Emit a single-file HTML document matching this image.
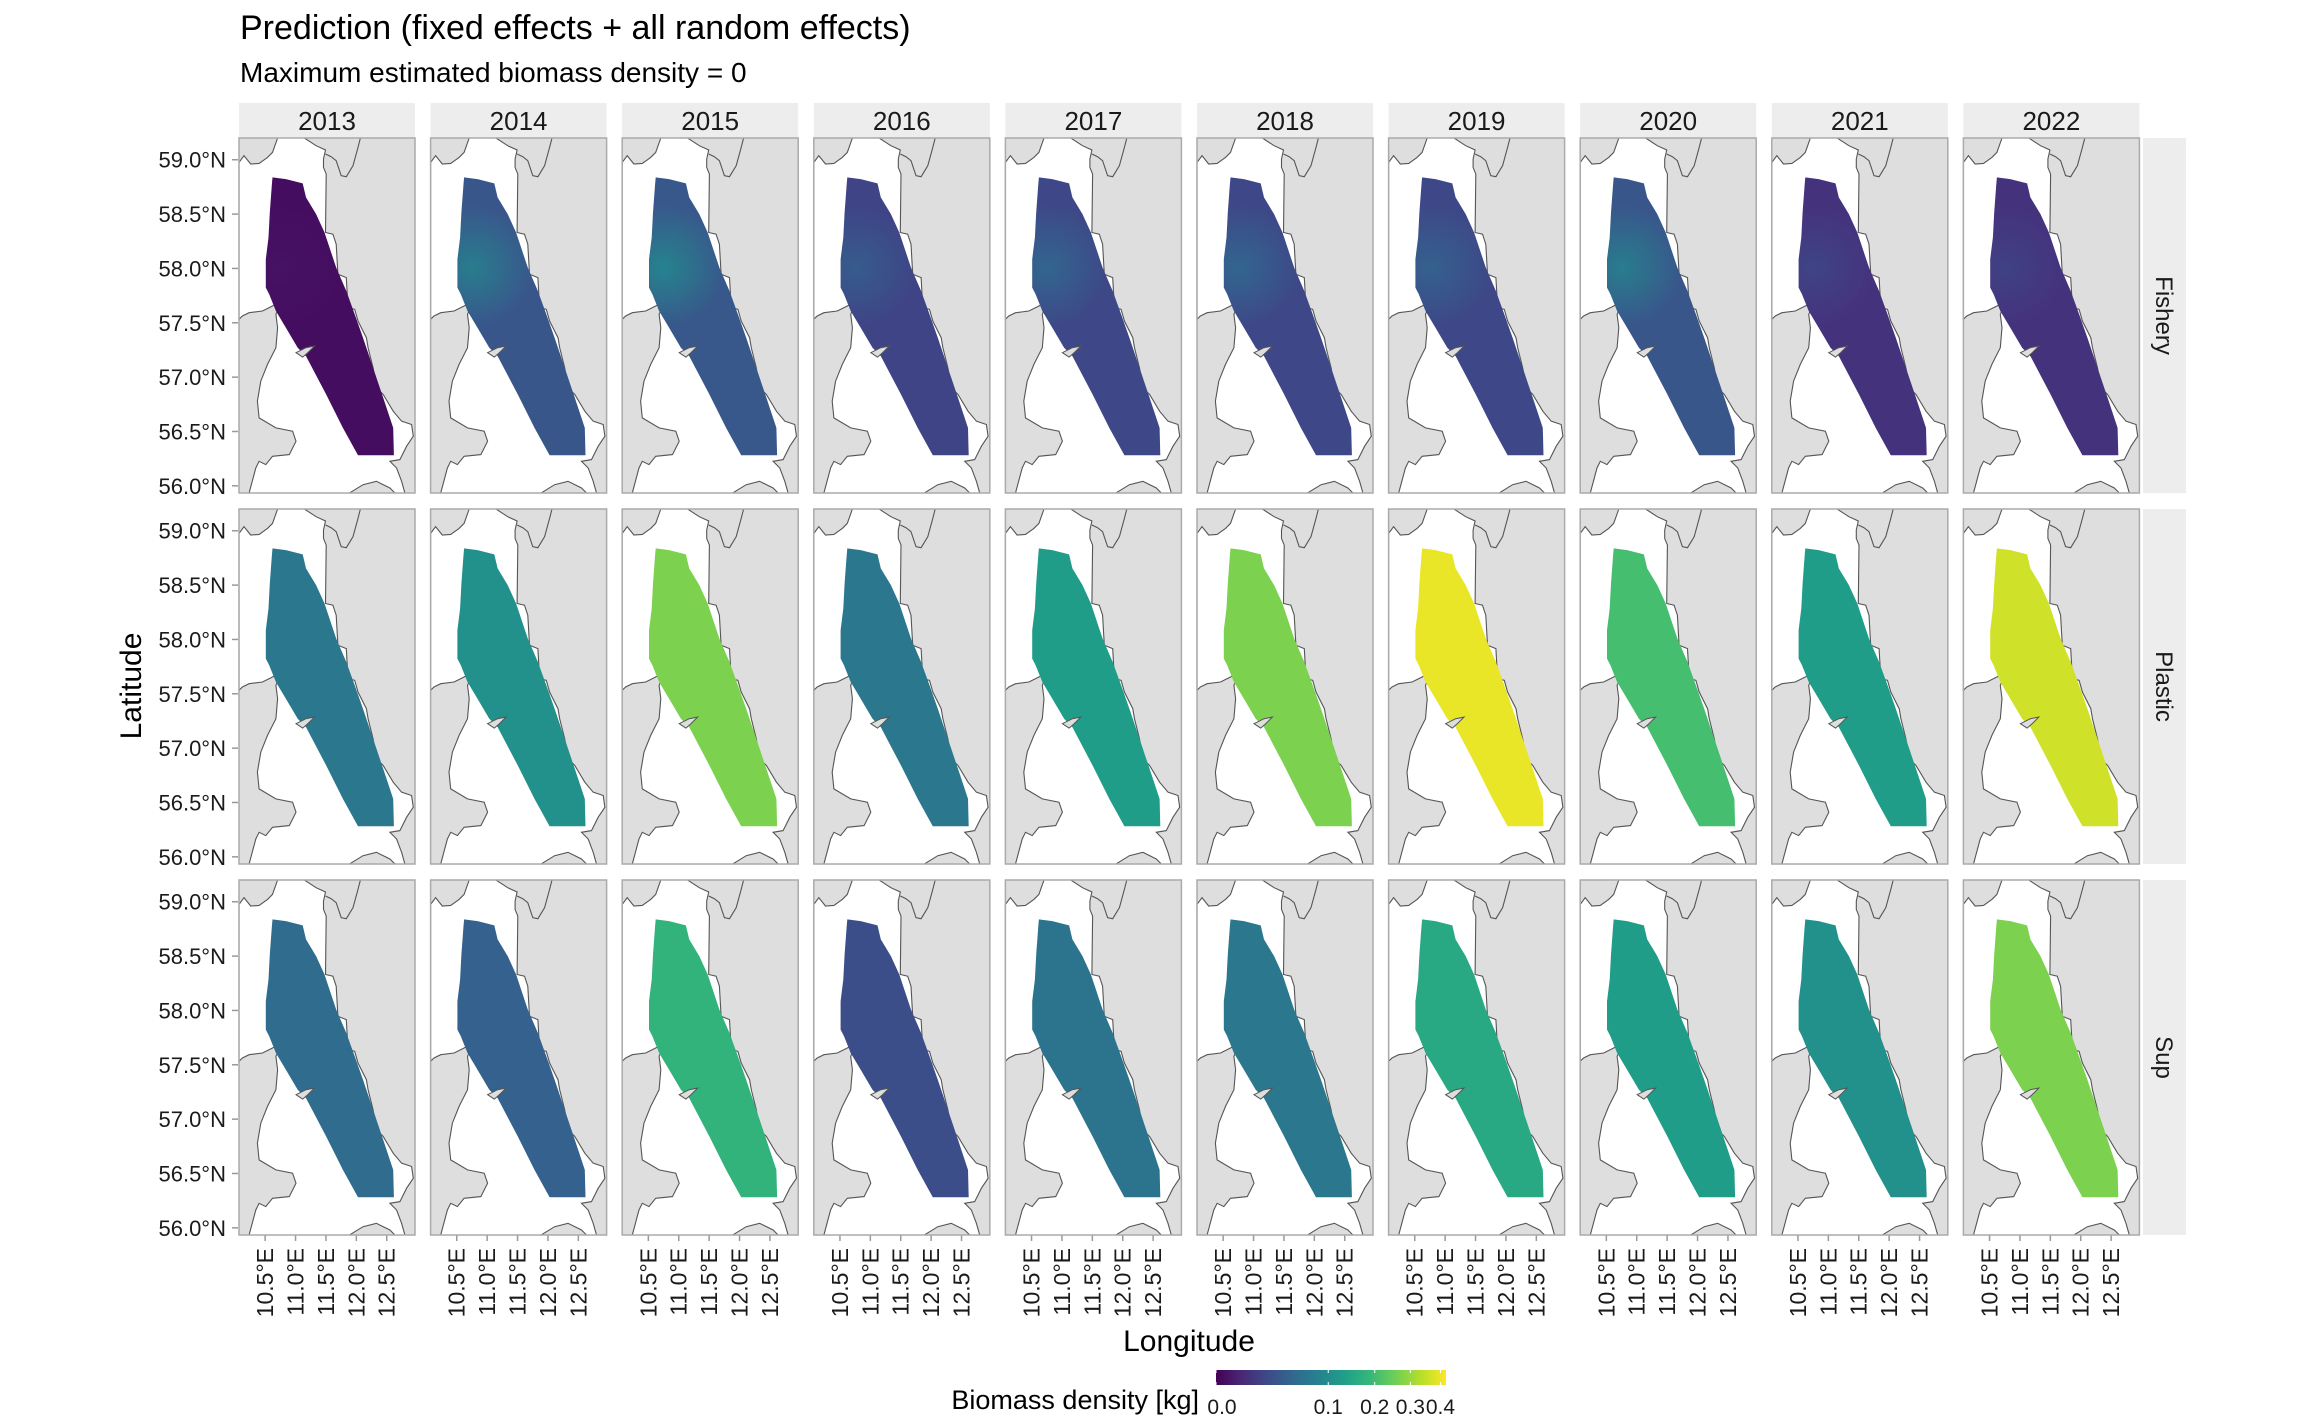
<!DOCTYPE html>
<html><head><meta charset="utf-8"><style>
html,body{margin:0;padding:0;background:#fff;}
svg{display:block;font-family:"Liberation Sans",Arial,sans-serif;}
</style></head><body>
<svg id="chart" width="2304" height="1423" viewBox="0 0 2304 1423" xmlns="http://www.w3.org/2000/svg">
<text x="240" y="39" font-size="34" fill="#000">Prediction (fixed effects + all random effects)</text>
<text x="240" y="82" font-size="28" fill="#000">Maximum estimated biomass density = 0</text>
<text transform="translate(141,686) rotate(-90)" text-anchor="middle" font-size="30">Latitude</text>
<text x="1189" y="1351" text-anchor="middle" font-size="30">Longitude</text>
<g id="panels"></g>
<g id="legend"></g>
</svg>
<script>
const years = ["2013","2014","2015","2016","2017","2018","2019","2020","2021","2022"];
const groups = ["Fishery","Plastic","Sup"];
const fisheryValues = [0.0005,0.030,0.032,0.018,0.020,0.020,0.020,0.030,0.009,0.009];
const fisheryHotspot = [0.001,0.075,0.085,0.035,0.045,0.045,0.040,0.075,0.018,0.016];
const plasticValues = [0.067,0.105,0.269,0.067,0.127,0.269,0.395,0.206,0.127,0.363];
const supValues     = [0.051,0.040,0.177,0.024,0.062,0.067,0.151,0.127,0.105,0.269];
const latTicks = [59.0,58.5,58.0,57.5,57.0,56.5,56.0];
const lonTicks = [10.5,11.0,11.5,12.0,12.5];
const legendTicks = [0.0,0.1,0.2,0.3,0.4];

const NS="http://www.w3.org/2000/svg";
const VIR=["#440154","#482878","#3e4989","#31688e","#26828e","#1f9e89","#35b779","#6ece58","#b5de2b","#fde725"];
function hex(h){return [1,3,5].map(i=>parseInt(h.substr(i,2),16));}
function viridis(t){t=Math.max(0,Math.min(1,t));const p=t*(VIR.length-1),i=Math.min(Math.floor(p),VIR.length-2),f=p-i;
 const a=hex(VIR[i]),b=hex(VIR[i+1]);return "rgb("+a.map((v,k)=>Math.round(v+(b[k]-v)*f)).join(",")+")";}
const SMAX=0.648;
function colorT(v){return Math.sqrt(Math.max(v,0))/SMAX;}
function el(tag,attrs,parent){const e=document.createElementNS(NS,tag);for(const k in attrs)e.setAttribute(k,attrs[k]);parent.appendChild(e);return e;}

const PW=176,PH=355,X0=239,DX=191.6,rowTops=[138,509,880];
const LON0=10.07,LONPX=60.8,LAT0=59.2,LATPX=108.7;
function xLon(left,lon){return left+(lon-LON0)*LONPX;}
function yLat(top,lat){return top+(LAT0-lat)*LATPX;}

const seaPts=[[125,12],[205,12],[240,35],[268,48],[262,75],[262,100],[270,120],[268,295],[290,300],[300,330],[305,420],[330,430],[335,520],[355,525],[365,560],[390,610],[395,640],[410,700],[420,760],[440,780],[470,830],[495,860],[525,870],[530,905],[510,935],[490,975],[460,980],[480,1000],[495,1040],[505,1075],[475,1075],[460,1060],[420,1040],[380,1050],[340,1075],[40,1075],[60,1000],[70,980],[90,990],[110,965],[160,960],[180,920],[170,890],[120,880],[70,850],[65,800],[75,740],[95,690],[120,640],[125,580],[120,540],[140,497],[110,515],[80,530],[40,535],[20,545],[10,555],[10,85],[25,65],[45,90],[70,88],[95,70],[110,55]];
const fjordPts=[[372,12],[365,40],[350,95],[330,128],[315,125],[300,80],[285,68],[268,60]];
const islandPts=[[180,655],[210,640],[235,635],[215,655],[200,668]];
const predPts=[[110,130],[150,135],[200,148],[210,190],[240,240],[265,295],[300,400],[330,470],[355,540],[380,610],[410,700],[440,790],[470,880],[472,962],[365,962],[320,880],[270,780],[210,665],[185,640],[150,580],[120,530],[100,480],[90,460],[90,375],[98,310],[102,235],[108,150]];
function tr(pts,l,t){return pts.map(p=>(l+(p[0]-10)/525*PW).toFixed(1)+","+(t+(p[1]-12)/1063*PH).toFixed(1)).join(" ");}

const svg=document.getElementById("chart");
const gdefs=el("defs",{},svg);
const panelsG=document.getElementById("panels");
const allValues=[fisheryValues,plasticValues,supValues];
years.forEach((yr,c)=>{
 const left=X0+c*DX;
 const strip=el("rect",{x:left,y:103,width:PW,height:35,fill:"#ededed"},panelsG);
 
 
 const st=el("text",{x:left+PW/2,y:130,"text-anchor":"middle","font-size":"26",fill:"#1a1a1a"},panelsG);
 st.textContent=yr;
 
 
 lonTicks.forEach(lon=>{
  const x=xLon(left,lon);
  const tk=el("line",{x1:x,x2:x,y1:1235,y2:1241,stroke:"#999","stroke-width":"1.5"},panelsG);
  
  
  const tl=el("text",{transform:"translate("+(x+8)+",1248) rotate(-90)","text-anchor":"end","font-size":"23",fill:"#1a1a1a"},panelsG);
  tl.textContent=lon.toFixed(1)+"°E";
  
  
 });
});
groups.forEach((g,r)=>{
 const top=rowTops[r];
 const rs=el("rect",{x:2143,y:top,width:43,height:PH,fill:"#ededed"},panelsG);
 
 
 const rt=el("text",{transform:"translate("+2156+","+(top+PH/2)+") rotate(90)","text-anchor":"middle","font-size":"24",fill:"#1a1a1a"},panelsG);
 rt.textContent=g;
 
 
 latTicks.forEach(lat=>{
  const y=yLat(top,lat);
  const tk=el("line",{x1:232,x2:238,y1:y,y2:y,stroke:"#999","stroke-width":"1.5"},panelsG);
  
  
  const tl=el("text",{x:226,y:y+8,"text-anchor":"end","font-size":"22",fill:"#1a1a1a"},panelsG);
  tl.textContent=lat.toFixed(1)+"°N";
  
  
 });
 years.forEach((yr,c)=>{
  const left=X0+c*DX;
  const g2=el("g",{},panelsG);
  
  
  el("rect",{x:left,y:top,width:PW,height:PH,fill:"#dedede"},g2);
  el("polygon",{points:tr(seaPts,left,top),fill:"#fff",stroke:"#555","stroke-width":"1.1"},g2);
  el("polyline",{points:tr(fjordPts,left,top),fill:"none",stroke:"#555","stroke-width":"1.1"},g2);
  const v=allValues[r][c];
  let fill=viridis(colorT(v));
  if(r===0){
   const id="hs"+c;
   const rg=el("radialGradient",{id:id,gradientUnits:"userSpaceOnUse",cx:xLon(left,10.8),cy:yLat(top,58.05),r:110,fx:xLon(left,10.75),fy:yLat(top,58.0)},gdefs);
   el("stop",{offset:"0","stop-color":viridis(colorT(fisheryHotspot[c]))},rg);
   el("stop",{offset:"0.55","stop-color":viridis(colorT(v))},rg);
   el("stop",{offset:"1","stop-color":viridis(colorT(v))},rg);
   fill="url(#"+id+")";
  }
  const pred=el("polygon",{points:tr(predPts,left,top),fill:fill},g2);
  
  
  el("polygon",{points:tr(islandPts,left,top),fill:"#dedede",stroke:"#555","stroke-width":"1"},g2);
  el("rect",{x:left,y:top,width:PW,height:PH,fill:"none",stroke:"#aaa","stroke-width":"1.5"},g2);
 });
});

const lg=document.getElementById("legend");
const LX=1216,LW=230,LY=1370,LH=15;
const defs=el("defs",{},lg);
const grad=el("linearGradient",{id:"vg",x1:"0",x2:"1",y1:"0",y2:"0"},defs);
VIR.forEach((c,i)=>el("stop",{offset:(i/(VIR.length-1)),"stop-color":c},grad));
const bar=el("rect",{x:LX,y:LY,width:LW,height:LH,fill:"url(#vg)"},lg);


const lt=el("text",{x:1199,y:1409,"text-anchor":"end","font-size":"27",fill:"#000"},lg);
lt.textContent="Biomass density [kg]";


legendTicks.forEach(t=>{
 const x=LX+colorT(t)*LW;
 el("line",{x1:x,x2:x,y1:LY,y2:LY+3,stroke:"#fff","stroke-width":"1"},lg);
 el("line",{x1:x,x2:x,y1:LY+LH-3,y2:LY+LH,stroke:"#fff","stroke-width":"1"},lg);
 const tx=el("text",{x:x+(t===0?6:0),y:1414,"text-anchor":"middle","font-size":"21",fill:"#1a1a1a"},lg);
 tx.textContent=t.toFixed(1);
 
 
});
</script>
</body></html>
